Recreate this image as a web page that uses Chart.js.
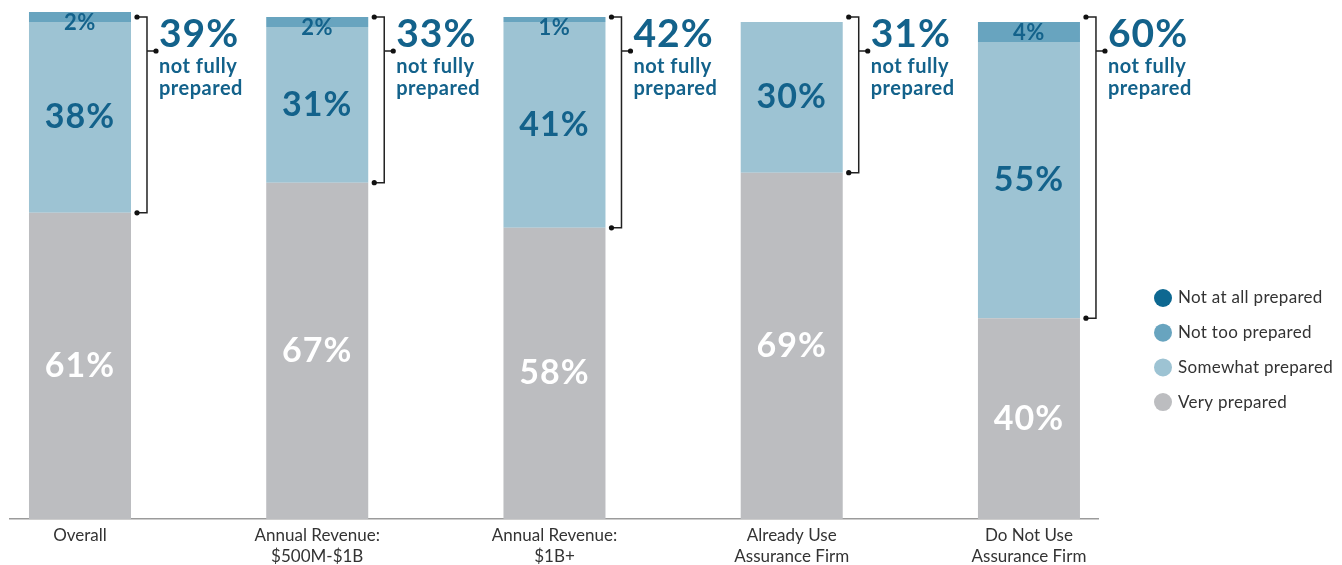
<!DOCTYPE html>
<html>
<head>
<meta charset="utf-8">
<title>Preparedness by segment</title>
<script src="https://cdn.jsdelivr.net/npm/chart.js@4.4.1/dist/chart.umd.min.js"></script>
<style>
  html, body { margin: 0; padding: 0; background: #fff; }
  canvas { display: block; }
</style>
</head>
<body>
<canvas id="chart" width="1342" height="565"></canvas>
<script>
// categories (split into label lines) and series, bottom to top
const categories = [
  ["Overall"],
  ["Annual Revenue:", "$500M-$1B"],
  ["Annual Revenue:", "$1B+"],
  ["Already Use", "Assurance Firm"],
  ["Do Not Use", "Assurance Firm"]
];
const veryPrepared = [61, 67, 58, 69, 40];
const somewhatPrepared = [38, 31, 41, 30, 55];
const notTooPrepared = [2, 2, 1, null, 4];
const notAtAllPrepared = [null, null, null, null, null];
// bracket callouts
const notFullyPrepared = [39, 33, 42, 31, 60];

const FONT = "Lato, 'Open Sans', sans-serif";
const textBlue = "#13628b";

function toPoints(values) {
  return values.map((v, i) => ({ x: i, y: v }));
}

// numbers inside each bar segment
const segmentLabels = {
  id: "segmentLabels",
  afterDatasetsDraw(chart) {
    const ctx = chart.ctx;
    ctx.save();
    ctx.textAlign = "center";
    ctx.textBaseline = "middle";
    chart.data.datasets.forEach((ds, di) => {
      const meta = chart.getDatasetMeta(di);
      meta.data.forEach((bar, i) => {
        const v = ds.data[i].y;
        if (!v) return;
        const top = Math.min(bar.y, bar.base);
        const bottom = Math.max(bar.y, bar.base);
        const small = v < 10;
        let y = (top + bottom) / 2;
        if (small) y = Math.max(y, top + 11);
        ctx.font = "bold " + (small ? 22 : 34) + "px " + FONT;
        ctx.letterSpacing = small ? "0.5px" : "1px";
        ctx.fillStyle = di === 0 ? "#ffffff" : textBlue;
        ctx.fillText(v + "%", bar.x, y);
      });
    });
    ctx.restore();
  }
};

// bracket + "xx% not fully prepared" to the right of each bar
const brackets = {
  id: "brackets",
  afterDraw(chart) {
    const ctx = chart.ctx;
    const yScale = chart.scales.y;
    const meta = chart.getDatasetMeta(0);
    ctx.save();
    meta.data.forEach((bar, i) => {
      const right = bar.x + bar.width / 2;
      const yTop = yScale.getPixelForValue(veryPrepared[i] + notFullyPrepared[i]);
      const yBottom = yScale.getPixelForValue(veryPrepared[i]);
      const xLine = right + 16;
      const xDot = right + 6;
      const yMid = yTop + 34;

      ctx.strokeStyle = "#222";
      ctx.lineWidth = 1.5;
      ctx.beginPath();
      ctx.moveTo(xDot, yTop);
      ctx.lineTo(xLine, yTop);
      ctx.lineTo(xLine, yBottom);
      ctx.lineTo(xDot, yBottom);
      ctx.moveTo(xLine, yMid);
      ctx.lineTo(xLine + 9, yMid);
      ctx.stroke();

      ctx.fillStyle = "#111";
      [[xDot, yTop], [xDot, yBottom], [xLine + 9, yMid]].forEach(p => {
        ctx.beginPath();
        ctx.arc(p[0], p[1], 2.6, 0, Math.PI * 2);
        ctx.fill();
      });

      const xText = xLine + 12;
      ctx.fillStyle = textBlue;
      ctx.textAlign = "left";
      ctx.textBaseline = "alphabetic";
      ctx.font = "bold 39px " + FONT;
      ctx.letterSpacing = "1px";
      ctx.fillText(notFullyPrepared[i] + "%", xText, yTop + 30);
      ctx.font = "bold 20px " + FONT;
      ctx.letterSpacing = "0.5px";
      ctx.fillText("not fully", xText, yTop + 56);
      ctx.fillText("prepared", xText, yTop + 78);
    });
    ctx.restore();
  }
};

// legend on the right, darkest series first
const sideLegend = {
  id: "sideLegend",
  afterDraw(chart) {
    const ctx = chart.ctx;
    const items = chart.data.datasets.slice().reverse();
    ctx.save();
    ctx.font = "17px " + FONT;
    ctx.letterSpacing = "0.3px";
    ctx.textBaseline = "middle";
    ctx.textAlign = "left";
    items.forEach((ds, k) => {
      const y = 298 + k * 34.7;
      ctx.fillStyle = ds.backgroundColor;
      ctx.beginPath();
      ctx.arc(1163, y, 9, 0, Math.PI * 2);
      ctx.fill();
      ctx.fillStyle = "#333";
      ctx.fillText(ds.label, 1178, y);
    });
    ctx.restore();
  }
};

new Chart(document.getElementById("chart"), {
  type: "bar",
  data: {
    datasets: [
      { label: "Very prepared", data: toPoints(veryPrepared), backgroundColor: "#bcbdc0" },
      { label: "Somewhat prepared", data: toPoints(somewhatPrepared), backgroundColor: "#9dc3d3" },
      { label: "Not too prepared", data: toPoints(notTooPrepared), backgroundColor: "#68a4bf" },
      { label: "Not at all prepared", data: toPoints(notAtAllPrepared), backgroundColor: "#0d6891" }
    ]
  },
  options: {
    responsive: false,
    animation: false,
    events: [],
    categoryPercentage: 1,
    barPercentage: 0.43,
    layout: { padding: { left: 10, right: 244, top: 12, bottom: 0 } },
    plugins: {
      legend: { display: false },
      tooltip: { enabled: false }
    },
    scales: {
      x: {
        type: "linear",
        stacked: true,
        offset: false,
        bounds: "data",
        min: -0.295,
        max: 4.291,
        grid: { display: false, drawTicks: false, offset: false },
        border: { display: true, color: "#9b9b9b", width: 1.5 },
        afterBuildTicks(scale) {
          scale.ticks = categories.map((c, i) => ({ value: i }));
        },
        afterFit(scale) {
          scale.height = 46;
        },
        ticks: {
          autoSkip: false,
          maxRotation: 0,
          padding: 6,
          color: "#333",
          font: { family: FONT, size: 17, lineHeight: 1.25 },
          callback: v => categories[v]
        }
      },
      y: {
        stacked: true,
        min: 0,
        max: 101,
        display: false
      }
    }
  },
  plugins: [segmentLabels, brackets, sideLegend]
});
</script>
</body>
</html>
